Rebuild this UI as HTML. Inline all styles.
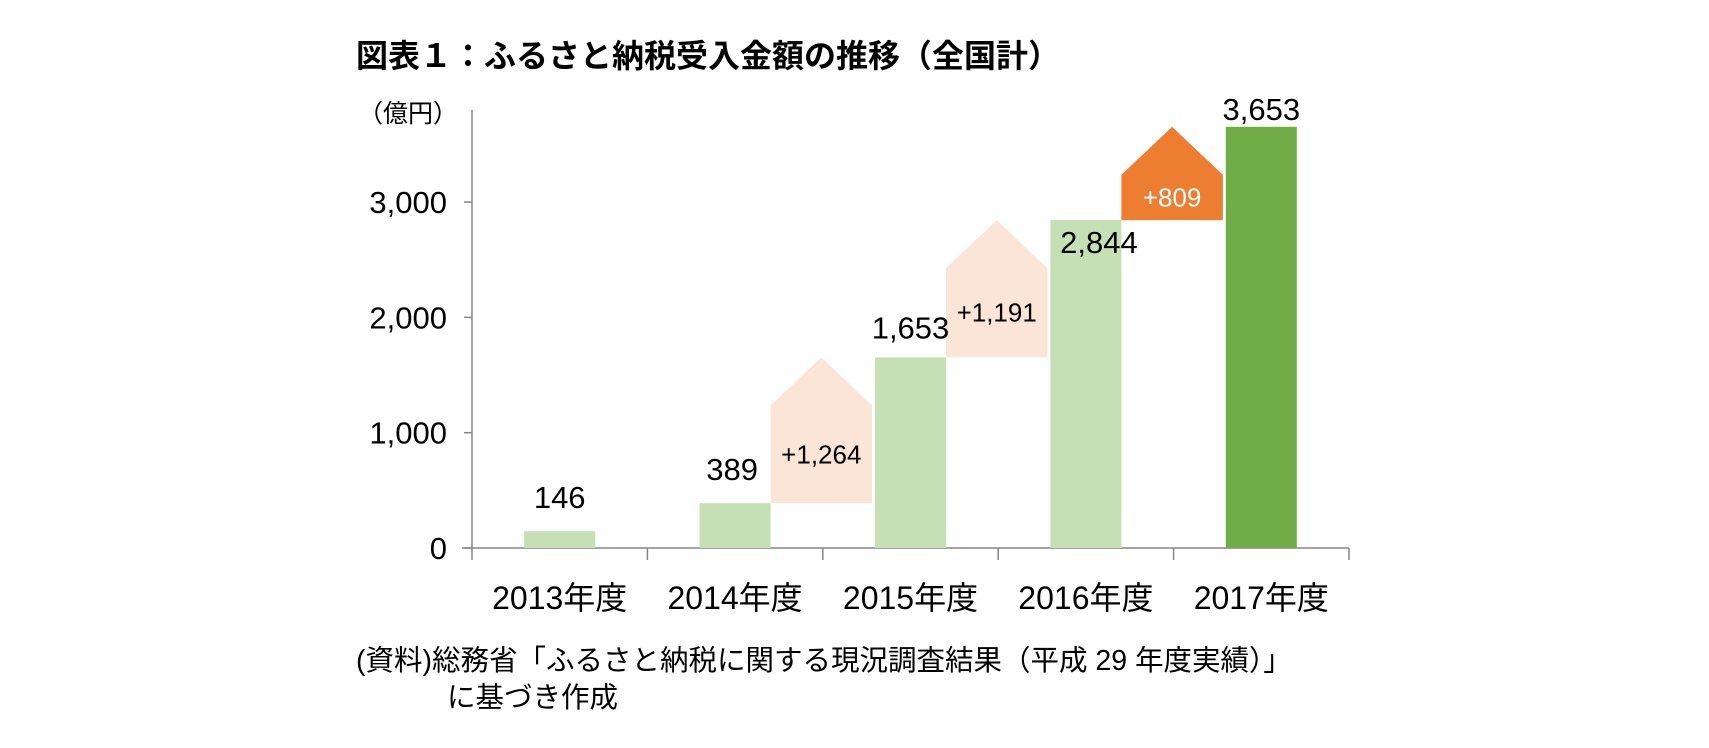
<!DOCTYPE html>
<html><head><meta charset="utf-8">
<style>
html,body{margin:0;padding:0;background:#fff;}
body{width:1709px;height:743px;overflow:hidden;font-family:"Liberation Sans","Noto Sans CJK JP",sans-serif;}
svg text{font-family:"Liberation Sans","Noto Sans CJK JP",sans-serif;}
</style></head><body>
<svg id="chart" width="1709" height="743">
<text x="356" y="67" font-size="32" font-weight="bold" fill="#000">図表１：ふるさと納税受入金額の推移（全国計）</text>
<text x="358" y="122" font-size="25" fill="#000">（億円）</text>
<text x="356" y="670" font-size="28.5" fill="#000">(資料)総務省「ふるさと納税に関する現況調査結果（平成 29 年度実績）」</text>
<text x="447" y="707" font-size="28.5" fill="#000">に基づき作成</text>
<g id="plot"></g>
</svg>
<script>
const categories = ["2013年度","2014年度","2015年度","2016年度","2017年度"];
const values = [146, 389, 1653, 2844, 3653];
const valueLabels = ["146","389","1,653","2,844","3,653"];
const yTicks = [0, 1000, 2000, 3000];
const yTickLabels = ["0","1,000","2,000","3,000"];
const labelDy = [-34, -34, -30, 22, -18];
const labelDx = [0, -3, 0, 13, 0];

const X0 = 472, X1 = 1349, Y0 = 548, PX_PER = 115.3/1000;
const catW = (X1 - X0) / categories.length;
const y = v => Y0 - v * PX_PER;
const xc = i => X0 + catW * (i + 0.5);
const barW = 71;
const NS = "http://www.w3.org/2000/svg";
const g = document.getElementById('plot');
function mk(tag, attrs, parent){ const e = document.createElementNS(NS, tag); for (const k in attrs) e.setAttribute(k, attrs[k]); (parent||g).appendChild(e); return e; }

const ya = mk('line',{x1:X0,y1:110,x2:X0,y2:Y0,stroke:'#868686','stroke-width':1.5});


const xa = mk('line',{x1:X0-10,y1:Y0,x2:X1,y2:Y0,stroke:'#868686','stroke-width':1.5});


yTicks.forEach((t,i)=>{
  const tk = mk('line',{x1:X0-8,y1:y(t),x2:X0,y2:y(t),stroke:'#868686','stroke-width':1.5});
  
  
  const tl = mk('text',{x:X0-25,y:y(t)+11,'font-size':31,'text-anchor':'end',fill:'#000'});
  tl.textContent = yTickLabels[i];
  
  
});
for (let i=0;i<=categories.length;i++){
  const tk = mk('line',{x1:X0+catW*i,y1:Y0,x2:X0+catW*i,y2:Y0+12,stroke:'#868686','stroke-width':1.5});
  
  
}
categories.forEach((c,i)=>{
  const t = mk('text',{x:xc(i),y:609,'font-size':32,'text-anchor':'middle',fill:'#000'});
  t.textContent = c;
  
  
});
for (let i=2;i<values.length;i++){
  const left = xc(i-1)+barW/2, right = xc(i)-barW/2-3;
  const bot = y(values[i-1]), peak = y(values[i]), sh = peak + 48;
  const last = i === values.length-1;
  const p = mk('polygon',{points:`${left},${bot} ${right},${bot} ${right},${sh} ${(left+right)/2},${peak} ${left},${sh}`,fill:last?'#ed7d31':'#fbe5d6'});
  
  
  const t = mk('text',{x:(left+right)/2,y:(bot+sh)/2+9,'font-size':26,'text-anchor':'middle',fill:last?'#fff':'#000'});
  t.textContent = '+' + (values[i]-values[i-1]).toLocaleString('en-US');
  
  
}
values.forEach((v,i)=>{
  const last = i === values.length-1;
  const r = mk('rect',{x:xc(i)-barW/2,y:y(v),width:barW,height:Y0-y(v),fill:last?'#70ad47':'#c5e0b4'});
  
  
  const t = mk('text',{x:xc(i)+labelDx[i],y:y(v)+labelDy[i]+11,'font-size':31,'text-anchor':'middle',fill:'#000'});
  t.textContent = valueLabels[i];
  
  
});
</script>
</body></html>
